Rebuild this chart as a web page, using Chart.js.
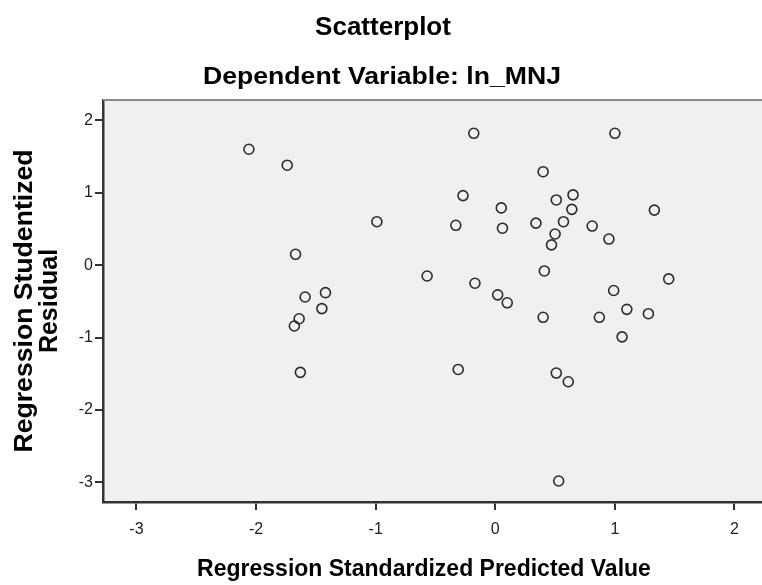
<!DOCTYPE html>
<html>
<head>
<meta charset="utf-8">
<script src="https://cdn.jsdelivr.net/npm/chart.js@4.4.1/dist/chart.umd.min.js"></script>
<style>
  html, body { margin:0; padding:0; background:#fff; overflow:hidden; }
  #wrap { width:762px; height:585px; position:relative; }
</style>
</head>
<body>
<div id="wrap"><canvas id="scatter"></canvas></div>
<script>
// les valeurs
const predicted = [-2.06, -1.74, -0.99, -1.67, -1.59, -1.42, -1.45, -1.64, -1.68, -1.63,
  -0.57, -0.18, 1.00, 0.40, -0.27, 0.65, 0.51, 0.05, 0.64, 1.33,
  -0.33, 0.06, 0.34, 0.57, 0.81, 0.50, 0.95, 0.47, 0.41, 1.45,
  -0.17, 0.99, 0.02, 0.10, 1.10, 1.28, 0.40, 0.87, 1.06, -0.31,
  0.51, 0.61, 0.53]
const residual = [1.60, 1.38, 0.60, 0.15, -0.44, -0.38, -0.60, -0.74, -0.84, -1.48,
  -0.15, 1.82, 1.82, 1.29, 0.96, 0.97, 0.90, 0.79, 0.77, 0.76,
  0.55, 0.51, 0.58, 0.60, 0.54, 0.43, 0.36, 0.28, -0.08, -0.19,
  -0.25, -0.35, -0.41, -0.52, -0.61, -0.67, -0.72, -0.72, -0.99, -1.44,
  -1.49, -1.61, -2.98]
const xTicks = [-3, -2, -1, 0, 1, 2]
const yTicks = [-3, -2, -1, 0, 1, 2]

const chartTitle = "Scatterplot"
const chartSubtitle = "Dependent Variable: ln_MNJ"
const xTitle = "Regression Standardized Predicted Value"
const yTitle = ["Regression Studentized", "Residual"]

const FONT = "'Liberation Sans', Arial, sans-serif"

const points = predicted.map((x, i) => ({ x: x, y: residual[i] }))

// texte etire en largeur (les titres du graphe spss sont un peu larges)
function wideText(ctx, txt, cx, y, width) {
  const w = ctx.measureText(txt).width
  ctx.save()
  ctx.translate(cx, y)
  ctx.scale(width / w, 1)
  ctx.fillText(txt, 0, 0)
  ctx.restore()
}

// fond gris, ligne du haut et les titres
const spssPlugin = {
  id: 'spss',
  beforeDraw(chart) {
    const { ctx, chartArea: a } = chart
    ctx.save()
    ctx.fillStyle = '#f0f0f0'
    ctx.fillRect(a.left, a.top, a.right - a.left, a.bottom - a.top)
    ctx.restore()
  },
  afterDraw(chart) {
    const { ctx, chartArea: a } = chart
    ctx.save()
    ctx.strokeStyle = '#8a8a8a'
    ctx.lineWidth = 2
    ctx.beginPath()
    ctx.moveTo(a.left, a.top)
    ctx.lineTo(chart.width, a.top)
    ctx.stroke()

    ctx.fillStyle = '#000'
    ctx.textAlign = 'center'
    ctx.textBaseline = 'alphabetic'
    ctx.font = 'bold 26px ' + FONT
    ctx.fillText(chartTitle, 383, 35)

    ctx.font = 'bold 23px ' + FONT
    wideText(ctx, chartSubtitle, 382, 84, 358)

    ctx.font = 'bold 23px ' + FONT
    ctx.fillText(xTitle, 424, 576)

    // titre vertical sur deux lignes
    ctx.font = 'bold 25px ' + FONT
    const midY = (a.top + a.bottom) / 2
    ctx.translate(32, midY)
    ctx.rotate(-Math.PI / 2)
    wideText(ctx, yTitle[0], 0, 0, 303)
    ctx.fillText(yTitle[1], 0, 25)
    ctx.restore()
  }
}

const graphe = document.querySelector('#scatter')
if (graphe) {
  const scatter = new Chart(graphe, {
    type: 'scatter',
    data: {
      datasets: [{
        label: 'residus',
        data: points,
        pointRadius: 5,
        pointHoverRadius: 5,
        pointBorderWidth: 1.6,
        borderColor: '#2b2b2b',
        backgroundColor: 'rgba(0,0,0,0)'
      }]
    },
    options: {
      responsive: true,
      maintainAspectRatio: false,
      animation: false,
      layout: { autoPadding: false, padding: { top: 100, right: 0, left: 0, bottom: 0 } },
      plugins: {
        legend: { display: false },
        tooltip: { enabled: false }
      },
      scales: {
        x: {
          type: 'linear',
          min: -3.28,
          max: 2.23,
          afterFit: (s) => { s.height = 83; s.paddingLeft = 0; s.paddingRight = 0 },
          afterBuildTicks: (s) => { s.ticks = xTicks.map(v => ({ value: v })) },
          border: { display: true, color: '#333', width: 2.5 },
          grid: { drawOnChartArea: false, drawTicks: true, tickLength: 8, tickColor: '#333', lineWidth: 2 },
          ticks: {
            padding: 10,
            color: '#222',
            font: { family: FONT, size: 16 }
          }
        },
        y: {
          type: 'linear',
          min: -3.27,
          max: 2.28,
          afterFit: (s) => { s.width = 103; s.paddingTop = 0; s.paddingBottom = 0 },
          afterBuildTicks: (s) => { s.ticks = yTicks.map(v => ({ value: v })) },
          border: { display: true, color: '#333', width: 2.5 },
          grid: { drawOnChartArea: false, drawTicks: true, tickLength: 8, tickColor: '#333', lineWidth: 2 },
          ticks: {
            padding: 2,
            color: '#222',
            font: { family: FONT, size: 16 }
          }
        }
      }
    },
    plugins: [spssPlugin]
  })
}
</script>
</body>
</html>
